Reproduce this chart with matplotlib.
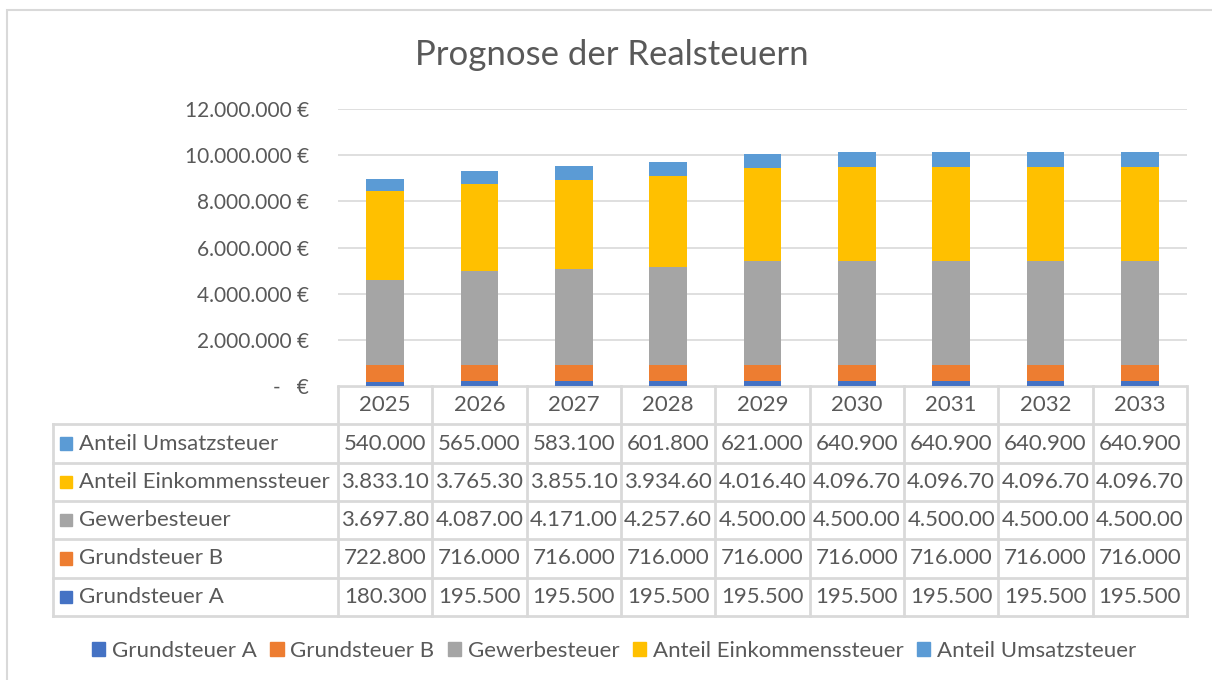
import matplotlib.pyplot as plt
from matplotlib.patches import Patch, Rectangle
import numpy as np

plt.rcParams['font.family'] = ['Lato', 'DejaVu Sans']

years = ['2025', '2026', '2027', '2028', '2029', '2030', '2031', '2032', '2033']
grundsteuer_a = [180300, 195500, 195500, 195500, 195500, 195500, 195500, 195500, 195500]
grundsteuer_b = [722800, 716000, 716000, 716000, 716000, 716000, 716000, 716000, 716000]
gewerbesteuer = [3697800, 4087000, 4171000, 4257600, 4500000, 4500000, 4500000, 4500000, 4500000]
einkommen = [3833100, 3765300, 3855100, 3934600, 4016400, 4096700, 4096700, 4096700, 4096700]
umsatz = [540000, 565000, 583100, 601800, 621000, 640900, 640900, 640900, 640900]

series_names = ['Grundsteuer A', 'Grundsteuer B', 'Gewerbesteuer',
                'Anteil Einkommenssteuer', 'Anteil Umsatzsteuer']
series_data = [grundsteuer_a, grundsteuer_b, gewerbesteuer, einkommen, umsatz]
colors = ['#4472c4', '#ed7d31', '#a5a5a5', '#ffc000', '#5b9bd5']

W, H = 1212, 680
grid_c = '#d9d9d9'
text_c = '#595959'
fs = 16


def fx(px):
    return px / W


def fy(py):
    return 1 - py / H


fig = plt.figure(figsize=(W / 100, H / 100), dpi=100)

# chart border (only top/left visible)
fig.patches.append(Rectangle((fx(7), fy(700)), fx(1230) - fx(7), fy(10) - fy(700),
                             transform=fig.transFigure, fill=False,
                             edgecolor='#d9d9d9', lw=1.5))

# plot area
pl, pr, pt, pb = 338, 1187, 109, 386
ax = fig.add_axes([fx(pl), fy(pb), fx(pr) - fx(pl), fy(pt) - fy(pb)])
x = np.arange(len(years))
bottom = np.zeros(len(years))
for name, vals, c in zip(series_names, series_data, colors):
    ax.bar(x, vals, 0.4, bottom=bottom, color=c, label=name, zorder=3)
    bottom += np.array(vals)

ax.set_xlim(-0.5, len(years) - 0.5)
ax.set_ylim(0, 12e6)
ax.set_yticks(np.arange(0, 12e6 + 1, 2e6))


def eur(v):
    if v == 0:
        return '-   €'
    return f'{int(v):,} €'.replace(',', '.')


ax.set_yticklabels([eur(v) for v in ax.get_yticks()], color=text_c, fontsize=15)
ax.tick_params(axis='y', length=0, pad=21)
ax.set_xticks([])
ax.grid(axis='y', color=grid_c, lw=1.2, zorder=0)
for s in ax.spines.values():
    s.set_visible(False)

# data table
tl, tt, tb = 53, 386, 616
tab = fig.add_axes([fx(tl), fy(tb), fx(pr) - fx(tl), fy(tt) - fy(tb)])
unit = (pr - pl) / len(years)
tab.set_xlim(-0.5 - (pl - tl) / unit, len(years) - 0.5)
tab.set_ylim(6, 0)
tab.axis('off')
left = -0.5 - (pl - tl) / unit

# horizontal lines
tab.plot([-0.5, len(years) - 0.5], [0, 0], color=grid_c, lw=2)
for r in range(1, 7):
    tab.plot([left, len(years) - 0.5], [r, r], color=grid_c, lw=2, clip_on=False)
# vertical lines
tab.plot([left, left], [1, 6], color=grid_c, lw=2, clip_on=False)
for i in range(len(years) + 1):
    tab.plot([i - 0.5, i - 0.5], [0, 6], color=grid_c, lw=2, clip_on=False)

for i, y in enumerate(years):
    tab.text(i, 0.5, y, ha='center', va='center', color=text_c, fontsize=fs)

rows = list(zip(series_names, series_data, colors))[::-1]
sq = 12 / unit
for r, (name, vals, c) in enumerate(rows, start=1):
    xs = left + 7 / unit
    tab.add_patch(Rectangle((xs, r + 0.5 - 0.16), sq, 0.32, color=c, clip_on=False))
    tab.text(left + 26 / unit, r + 0.5, name, ha='left', va='center',
             color=text_c, fontsize=fs)
    for i, v in enumerate(vals):
        lab = f'{v:,}'.replace(',', '.')[:8]
        tab.text(i, r + 0.5, lab, ha='center', va='center', color=text_c, fontsize=fs)

fig.text(fx(612), fy(55), 'Prognose der Realsteuern', ha='center', va='center',
         color=text_c, fontsize=25)

handles = [Patch(color=c, label=n) for n, c in zip(series_names, colors)]
fig.legend(handles=handles, loc='center', bbox_to_anchor=(fx(614), fy(651)), ncol=5,
           frameon=False, fontsize=fs, labelcolor=text_c, handlelength=0.6,
           handleheight=0.6, handletextpad=0.3, columnspacing=0.6)

fig.savefig('out.png', dpi=100)
